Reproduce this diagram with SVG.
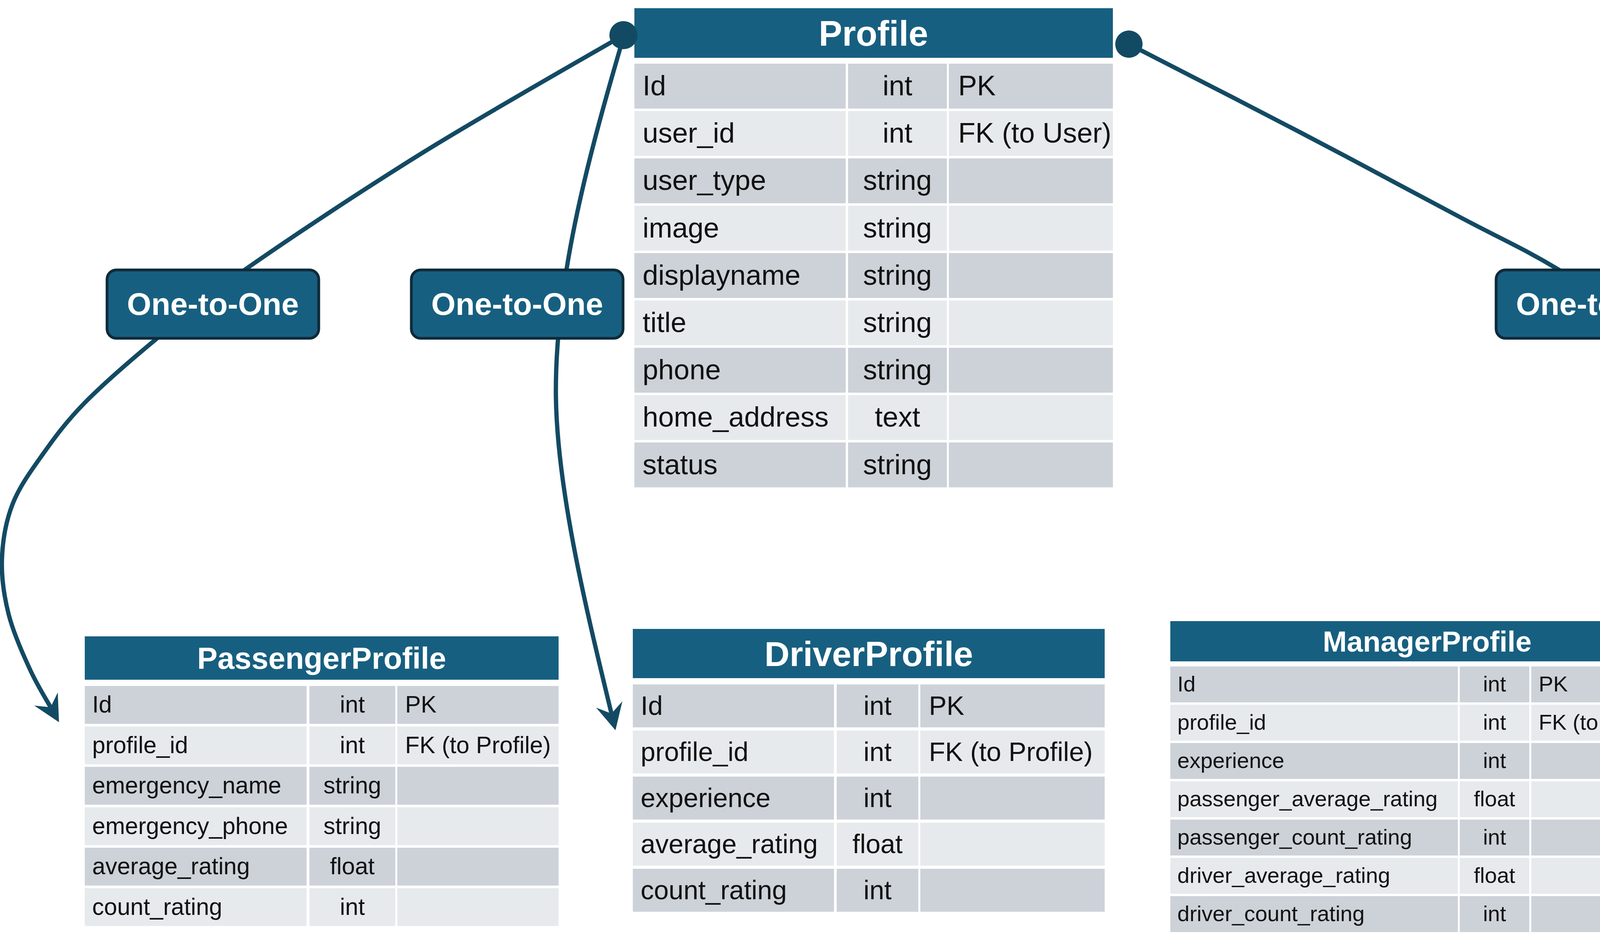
<svg xmlns="http://www.w3.org/2000/svg" width="4635" height="2414" viewBox="0 0 4635 2414">
<defs>
<style>
.hdr{fill:#175F80}
.dk{fill:#CDD2D9}
.lt{fill:#E7EAED}
text{font-family:"Liberation Sans",Arial,sans-serif}
.h{fill:#FFFFFF;font-weight:bold;text-anchor:middle}
.p{font-size:72px;fill:#111111}
.s{font-size:60.5px;fill:#111111}
.d{font-size:68px;fill:#111111}
.m{font-size:56px;fill:#111111}
.c{text-anchor:middle}
.conn{fill:none;stroke:#134A63;stroke-width:11;marker-end:url(#arr)}
.dot{fill:#134A63}
.lbox{fill:#175F80;stroke:#0E2A3A;stroke-width:7}
.ltxt{fill:#FFFFFF;font-weight:bold;font-size:80px;text-anchor:middle}
</style>
<marker id="arr" markerUnits="userSpaceOnUse" viewBox="0 -35 68 70" markerWidth="68" markerHeight="70" refX="24" refY="0" orient="auto">
<path d="M0,-34.5 L68,0 L0,34.5 L24,0 Z" fill="#134A63"/>
</marker>
</defs>
<rect width="4635" height="2414" fill="#FFFFFF"/>

<g id="Profile">
<rect class="hdr" x="1624" y="21" width="1225" height="127"/>
<text class="h" x="2236" y="117" font-size="90">Profile</text>
<rect class="dk" x="1624" y="163" width="541" height="115"/><rect class="dk" x="2171" y="163" width="253" height="115"/><rect class="dk" x="2429" y="163" width="420" height="115"/>
<rect class="lt" x="1624" y="284.2" width="541" height="115"/><rect class="lt" x="2171" y="284.2" width="253" height="115"/><rect class="lt" x="2429" y="284.2" width="420" height="115"/>
<rect class="dk" x="1624" y="405.4" width="541" height="115"/><rect class="dk" x="2171" y="405.4" width="253" height="115"/><rect class="dk" x="2429" y="405.4" width="420" height="115"/>
<rect class="lt" x="1624" y="526.6" width="541" height="115"/><rect class="lt" x="2171" y="526.6" width="253" height="115"/><rect class="lt" x="2429" y="526.6" width="420" height="115"/>
<rect class="dk" x="1624" y="647.8" width="541" height="115"/><rect class="dk" x="2171" y="647.8" width="253" height="115"/><rect class="dk" x="2429" y="647.8" width="420" height="115"/>
<rect class="lt" x="1624" y="769" width="541" height="115"/><rect class="lt" x="2171" y="769" width="253" height="115"/><rect class="lt" x="2429" y="769" width="420" height="115"/>
<rect class="dk" x="1624" y="890.2" width="541" height="115"/><rect class="dk" x="2171" y="890.2" width="253" height="115"/><rect class="dk" x="2429" y="890.2" width="420" height="115"/>
<rect class="lt" x="1624" y="1011.4" width="541" height="115"/><rect class="lt" x="2171" y="1011.4" width="253" height="115"/><rect class="lt" x="2429" y="1011.4" width="420" height="115"/>
<rect class="dk" x="1624" y="1132.6" width="541" height="115"/><rect class="dk" x="2171" y="1132.6" width="253" height="115"/><rect class="dk" x="2429" y="1132.6" width="420" height="115"/>
<text class="p" x="1645" y="244">Id</text><text class="p c" x="2297.5" y="244">int</text><text class="p" x="2453" y="244">PK</text>
<text class="p" x="1645" y="365.2">user_id</text><text class="p c" x="2297.5" y="365.2">int</text><text class="p" x="2453" y="365.2">FK (to User)</text>
<text class="p" x="1645" y="486.4">user_type</text><text class="p c" x="2297.5" y="486.4">string</text>
<text class="p" x="1645" y="607.6">image</text><text class="p c" x="2297.5" y="607.6">string</text>
<text class="p" x="1645" y="728.8">displayname</text><text class="p c" x="2297.5" y="728.8">string</text>
<text class="p" x="1645" y="850">title</text><text class="p c" x="2297.5" y="850">string</text>
<text class="p" x="1645" y="971.2">phone</text><text class="p c" x="2297.5" y="971.2">string</text>
<text class="p" x="1645" y="1092.4">home_address</text><text class="p c" x="2297.5" y="1092.4">text</text>
<text class="p" x="1645" y="1213.6">status</text><text class="p c" x="2297.5" y="1213.6">string</text>
</g>

<g id="PassengerProfile">
<rect class="hdr" x="217" y="1629" width="1213" height="111"/>
<text class="h" x="823.5" y="1712" font-size="78">PassengerProfile</text>
<rect class="dk" x="217" y="1756" width="568" height="97"/><rect class="dk" x="792" y="1756" width="220" height="97"/><rect class="dk" x="1017" y="1756" width="413" height="97"/>
<rect class="lt" x="217" y="1859.5" width="568" height="97"/><rect class="lt" x="792" y="1859.5" width="220" height="97"/><rect class="lt" x="1017" y="1859.5" width="413" height="97"/>
<rect class="dk" x="217" y="1963" width="568" height="97"/><rect class="dk" x="792" y="1963" width="220" height="97"/><rect class="dk" x="1017" y="1963" width="413" height="97"/>
<rect class="lt" x="217" y="2066.5" width="568" height="97"/><rect class="lt" x="792" y="2066.5" width="220" height="97"/><rect class="lt" x="1017" y="2066.5" width="413" height="97"/>
<rect class="dk" x="217" y="2170" width="568" height="97"/><rect class="dk" x="792" y="2170" width="220" height="97"/><rect class="dk" x="1017" y="2170" width="413" height="97"/>
<rect class="lt" x="217" y="2273.5" width="568" height="97"/><rect class="lt" x="792" y="2273.5" width="220" height="97"/><rect class="lt" x="1017" y="2273.5" width="413" height="97"/>
<text class="s" x="236" y="1824">Id</text><text class="s c" x="902" y="1824">int</text><text class="s" x="1037" y="1824">PK</text>
<text class="s" x="236" y="1927.5">profile_id</text><text class="s c" x="902" y="1927.5">int</text><text class="s" x="1037" y="1927.5">FK (to Profile)</text>
<text class="s" x="236" y="2031">emergency_name</text><text class="s c" x="902" y="2031">string</text>
<text class="s" x="236" y="2134.5">emergency_phone</text><text class="s c" x="902" y="2134.5">string</text>
<text class="s" x="236" y="2238">average_rating</text><text class="s c" x="902" y="2238">float</text>
<text class="s" x="236" y="2341.5">count_rating</text><text class="s c" x="902" y="2341.5">int</text>
</g>

<g id="DriverProfile">
<rect class="hdr" x="1620" y="1610" width="1208" height="126"/>
<text class="h" x="2224" y="1705" font-size="89">DriverProfile</text>
<rect class="dk" x="1620" y="1752" width="515" height="110"/><rect class="dk" x="2142" y="1752" width="209" height="110"/><rect class="dk" x="2356" y="1752" width="472" height="110"/>
<rect class="lt" x="1620" y="1870" width="515" height="110"/><rect class="lt" x="2142" y="1870" width="209" height="110"/><rect class="lt" x="2356" y="1870" width="472" height="110"/>
<rect class="dk" x="1620" y="1988" width="515" height="110"/><rect class="dk" x="2142" y="1988" width="209" height="110"/><rect class="dk" x="2356" y="1988" width="472" height="110"/>
<rect class="lt" x="1620" y="2106" width="515" height="110"/><rect class="lt" x="2142" y="2106" width="209" height="110"/><rect class="lt" x="2356" y="2106" width="472" height="110"/>
<rect class="dk" x="1620" y="2224" width="515" height="110"/><rect class="dk" x="2142" y="2224" width="209" height="110"/><rect class="dk" x="2356" y="2224" width="472" height="110"/>
<text class="d" x="1640" y="1830">Id</text><text class="d c" x="2246.5" y="1830">int</text><text class="d" x="2378" y="1830">PK</text>
<text class="d" x="1640" y="1948">profile_id</text><text class="d c" x="2246.5" y="1948">int</text><text class="d" x="2378" y="1948">FK (to Profile)</text>
<text class="d" x="1640" y="2066">experience</text><text class="d c" x="2246.5" y="2066">int</text>
<text class="d" x="1640" y="2184">average_rating</text><text class="d c" x="2246.5" y="2184">float</text>
<text class="d" x="1640" y="2302">count_rating</text><text class="d c" x="2246.5" y="2302">int</text>
</g>

<g id="ManagerProfile">
<rect class="hdr" x="2996" y="1590" width="1315" height="103"/>
<text class="h" x="3653.5" y="1668" font-size="74">ManagerProfile</text>
<rect class="dk" x="2996" y="1706" width="736" height="92"/><rect class="dk" x="3737" y="1706" width="178" height="92"/><rect class="dk" x="3920" y="1706" width="391" height="92"/>
<rect class="lt" x="2996" y="1804" width="736" height="92"/><rect class="lt" x="3737" y="1804" width="178" height="92"/><rect class="lt" x="3920" y="1804" width="391" height="92"/>
<rect class="dk" x="2996" y="1902" width="736" height="92"/><rect class="dk" x="3737" y="1902" width="178" height="92"/><rect class="dk" x="3920" y="1902" width="391" height="92"/>
<rect class="lt" x="2996" y="2000" width="736" height="92"/><rect class="lt" x="3737" y="2000" width="178" height="92"/><rect class="lt" x="3920" y="2000" width="391" height="92"/>
<rect class="dk" x="2996" y="2098" width="736" height="92"/><rect class="dk" x="3737" y="2098" width="178" height="92"/><rect class="dk" x="3920" y="2098" width="391" height="92"/>
<rect class="lt" x="2996" y="2196" width="736" height="92"/><rect class="lt" x="3737" y="2196" width="178" height="92"/><rect class="lt" x="3920" y="2196" width="391" height="92"/>
<rect class="dk" x="2996" y="2294" width="736" height="92"/><rect class="dk" x="3737" y="2294" width="178" height="92"/><rect class="dk" x="3920" y="2294" width="391" height="92"/>
<text class="m" x="3014" y="1770">Id</text><text class="m c" x="3826" y="1770">int</text><text class="m" x="3939" y="1770">PK</text>
<text class="m" x="3014" y="1868">profile_id</text><text class="m c" x="3826" y="1868">int</text><text class="m" x="3939" y="1868">FK (to Profile)</text>
<text class="m" x="3014" y="1966">experience</text><text class="m c" x="3826" y="1966">int</text>
<text class="m" x="3014" y="2064">passenger_average_rating</text><text class="m c" x="3826" y="2064">float</text>
<text class="m" x="3014" y="2162">passenger_count_rating</text><text class="m c" x="3826" y="2162">int</text>
<text class="m" x="3014" y="2260">driver_average_rating</text><text class="m c" x="3826" y="2260">float</text>
<text class="m" x="3014" y="2358">driver_count_rating</text><text class="m c" x="3826" y="2358">int</text>
</g>

<g id="connectors">
<path id="conn-profile-passenger" class="conn" d="M1596,90 C1510.8,139.8 1246.2,289.2 1085,389 C923.8,488.8 743,609.3 629,689 C515,768.7 469.7,810 401,867 C332.3,924 265.8,981.3 217,1031 C168.2,1080.7 138.8,1121.7 108,1165 C77.2,1208.3 49.2,1246.7 32,1291 C14.8,1335.3 6.7,1384.2 5,1431 C3.3,1477.8 10.2,1525.2 22,1572 C33.8,1618.8 57.8,1672.8 76,1712 C93.9,1751.7 114.8,1784.2 129.5,1810.4"/>
<path id="conn-profile-driver" class="conn" d="M1596,95 C1512,383 1423,700 1423,1000 C1423,1250 1506.8,1584 1565.3,1826.7"/>
<path id="conn-profile-manager" class="conn" d="M2890,113 C2962.8,150.5 3186,264.3 3327,338 C3468,411.7 3625.8,496.5 3736,555 C3846.2,613.5 3902.2,637 3988,689 C4073.8,741 4175.8,813.5 4251,867 C4326.2,920.5 4390,962.7 4439,1010 C4488,1057.3 4515.7,1104.2 4545,1151 C4574.3,1197.8 4601.2,1253.7 4615,1291 C4628.8,1328.3 4628,1340 4628,1375 C4628,1410 4624.3,1462.3 4615,1501 C4605.7,1539.7 4592.5,1571.8 4572,1607 C4551.5,1642.2 4522.3,1677.3 4492,1712 C4461.7,1746.7 4415.7,1784.4 4390.1,1814.6"/>
<circle class="dot" cx="1596" cy="90" r="36"/>
<circle class="dot" cx="2890" cy="113" r="35"/>
</g>

<g id="label-passenger">
<rect class="lbox" x="274" y="691" width="542" height="175" rx="24"/>
<text class="ltxt" x="545" y="806">One-to-One</text>
</g>
<g id="label-driver">
<rect class="lbox" x="1053" y="691" width="542" height="175" rx="24"/>
<text class="ltxt" x="1324" y="806">One-to-One</text>
</g>
<g id="label-manager">
<rect class="lbox" x="3830" y="691" width="542" height="175" rx="24"/>
<text class="ltxt" x="4101" y="806">One-to-One</text>
</g>
</svg>
